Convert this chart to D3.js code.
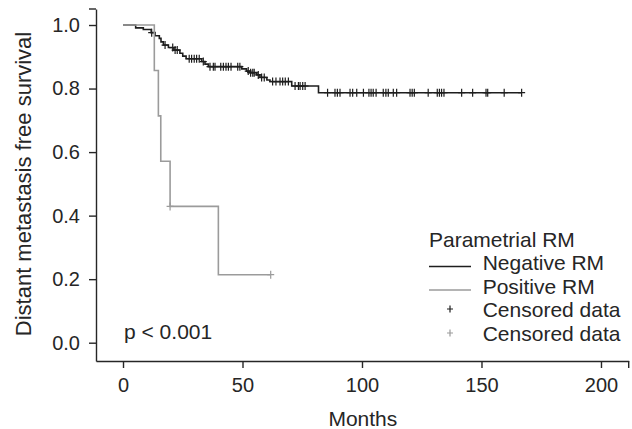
<!DOCTYPE html>
<meta charset="utf-8">
<script src="https://d3js.org/d3.v7.min.js"></script>
<style>
body { margin:0; background:#fff; }
text { font-family: "Liberation Sans", Arial, Helvetica, sans-serif; fill:#262626; }
.axis path, .axis line { stroke:#262626; stroke-width:1.4; }
.axis text { font-size:20px; fill:#262626; }
.km { fill:none; stroke-width:1.6; }
</style>
<body></body>
<script>

// Negative RM: Kaplan-Meier steps (months, survival)
var negTime = [0, 5.3, 8.5, 11.8, 13.4, 15.2, 15.9, 16.9, 19, 21.3, 23.8, 25, 26.4, 32.9, 34.3, 35.7, 49.7, 51.7, 53.1, 56, 57.3, 60.2, 61.5, 70.6, 81.8];
var negSurv = [1.0, 0.991, 0.986, 0.976, 0.966, 0.958, 0.947, 0.937, 0.929, 0.921, 0.911, 0.902, 0.894, 0.885, 0.877, 0.869, 0.862, 0.855, 0.850, 0.843, 0.835, 0.827, 0.822, 0.808, 0.787];
var negEnd = 166.8;
var negCensor = [12, 17.6, 20.8, 21.8, 22.7, 27.7, 28.7, 29.8, 30.8, 31.9, 33.6, 36.4, 37.8, 38.5, 40.9, 42.0,
  43.1, 44.1, 45.2, 48.0, 48.9, 52.4, 53.4, 54.3, 54.9, 56.6, 58.0, 59.1, 62.6, 64.0, 65.7, 66.8, 67.9, 69.2,
  72.0, 73.4, 74.1, 75.2, 76.2, 85.6, 88.7, 89.7, 90.8, 95.0, 96.1, 97.8, 100.6, 102.9, 103.8, 104.7, 105.9,
  108.9, 110.0, 111.0, 113.1, 114.5, 120.1, 121.0, 121.9, 127.7, 131.5, 132.4, 133.3, 134.3, 141.7, 146.3,
  151.9, 152.6, 159.5, 166.8];

// Positive RM
var posTime = [0, 13.1, 14.8, 15.8, 19.7, 39.9];
var posSurv = [1.0, 0.857, 0.714, 0.571, 0.429, 0.214];
var posEnd = 61.8;
var posCensor = [19.7, 61.8];

var xTicks = [0, 50, 100, 150, 200];
var yTicks = [0, 0.2, 0.4, 0.6, 0.8, 1.0];
var legendTitle = "Parametrial RM";
var legendLabels = ["Negative RM", "Positive RM", "Censored data", "Censored data"];
var pText = "p < 0.001";

var negColor = "#1e1e1e", posColor = "#9b9b9b";

var width = 632, height = 429;
var plotLeft = 96, plotRight = 628.7, plotTop = 9, plotBottom = 361;

var svg = d3.select("body").append("svg")
  .attr("width", width)
  .attr("height", height);

var x = d3.scaleLinear().domain([-11.3, 211.6]).range([plotLeft, plotRight]);
var y = d3.scaleLinear().domain([-0.0576, 1.0504]).range([plotBottom, plotTop]);

var xAxis = d3.axisBottom(x).tickValues(xTicks).tickFormat(d3.format("d"))
  .tickSizeInner(7).tickSizeOuter(0).tickPadding(10);
var yAxis = d3.axisLeft(y).tickValues(yTicks).tickFormat(d3.format(".1f"))
  .tickSizeInner(7).tickSizeOuter(0).tickPadding(9);

var gx = svg.append("g").attr("class", "x axis")
  .attr("transform", "translate(0," + plotBottom + ")")
  .call(xAxis);
gx.append("line").attr("x1", plotRight).attr("x2", plotRight).attr("y1", 0).attr("y2", 7);

var gy = svg.append("g").attr("class", "y axis")
  .attr("transform", "translate(" + plotLeft + ",0)")
  .call(yAxis);
gy.append("line").attr("x1", -7).attr("x2", 0).attr("y1", plotTop).attr("y2", plotTop);

svg.append("text")
  .attr("x", (plotLeft + plotRight) / 2 + 0.5)
  .attr("y", 426)
  .attr("text-anchor", "middle")
  .style("font-size", "21px")
  .text("Months");

svg.append("text")
  .attr("transform", "translate(31,184) rotate(-90)")
  .attr("text-anchor", "middle")
  .style("font-size", "22px")
  .text("Distant metastasis free survival");

function steps(times, surv, end) {
  var pts = times.map(function(t, i) { return [t, surv[i]]; });
  pts.push([end, surv[surv.length - 1]]);
  return pts;
}

function survAt(times, surv, t) {
  var i = d3.bisectRight(times, t) - 1;
  return surv[Math.max(i, 0)];
}

var line = d3.line()
  .x(function(d) { return x(d[0]); })
  .y(function(d) { return y(d[1]); })
  .curve(d3.curveStepAfter);

var plus = "M-3.5,0H3.5M0,-4V4";

svg.append("path").attr("class", "km")
  .attr("stroke", negColor)
  .attr("d", line(steps(negTime, negSurv, negEnd)));

svg.selectAll(".neg-censor")
  .data(negCensor).enter().append("path")
  .attr("class", "neg-censor")
  .attr("d", plus)
  .attr("stroke", negColor)
  .attr("stroke-width", 1.2)
  .attr("transform", function(d) {
    return "translate(" + x(d) + "," + y(survAt(negTime, negSurv, d)) + ")";
  });

svg.append("path").attr("class", "km")
  .attr("stroke", posColor)
  .attr("d", line(steps(posTime, posSurv, posEnd)));

svg.selectAll(".pos-censor")
  .data(posCensor).enter().append("path")
  .attr("class", "pos-censor")
  .attr("d", plus)
  .attr("stroke", posColor)
  .attr("stroke-width", 1.2)
  .attr("transform", function(d) {
    return "translate(" + x(d) + "," + y(survAt(posTime, posSurv, d)) + ")";
  });

svg.append("text")
  .attr("x", 124)
  .attr("y", 339)
  .style("font-size", "21px")
  .text(pText);

// legend
var legend = svg.append("g").attr("class", "legend");
legend.append("text")
  .attr("x", 429).attr("y", 246.7)
  .style("font-size", "21px")
  .text(legendTitle);

var rowY = [270, 293.5, 317, 341];
var rowColor = [negColor, posColor, negColor, posColor];

legend.selectAll(".lab")
  .data(legendLabels).enter().append("text")
  .attr("class", "lab")
  .attr("x", 482.7)
  .attr("y", function(d, i) { return rowY[i]; })
  .style("font-size", "21px")
  .text(function(d) { return d; });

legend.selectAll(".key-line")
  .data([0, 1]).enter().append("line")
  .attr("class", "key-line")
  .attr("x1", 429).attr("x2", 471)
  .attr("y1", function(i) { return rowY[i] - 3.5; })
  .attr("y2", function(i) { return rowY[i] - 3.5; })
  .attr("stroke", function(i) { return rowColor[i]; })
  .attr("stroke-width", 1.6);

legend.selectAll(".key-plus")
  .data([2, 3]).enter().append("path")
  .attr("class", "key-plus")
  .attr("d", "M-3,0H3M0,-3.5V3.5")
  .attr("stroke", function(i) { return rowColor[i]; })
  .attr("stroke-width", 1.2)
  .attr("transform", function(i) { return "translate(450," + (rowY[i] - 8) + ")"; });

</script>
